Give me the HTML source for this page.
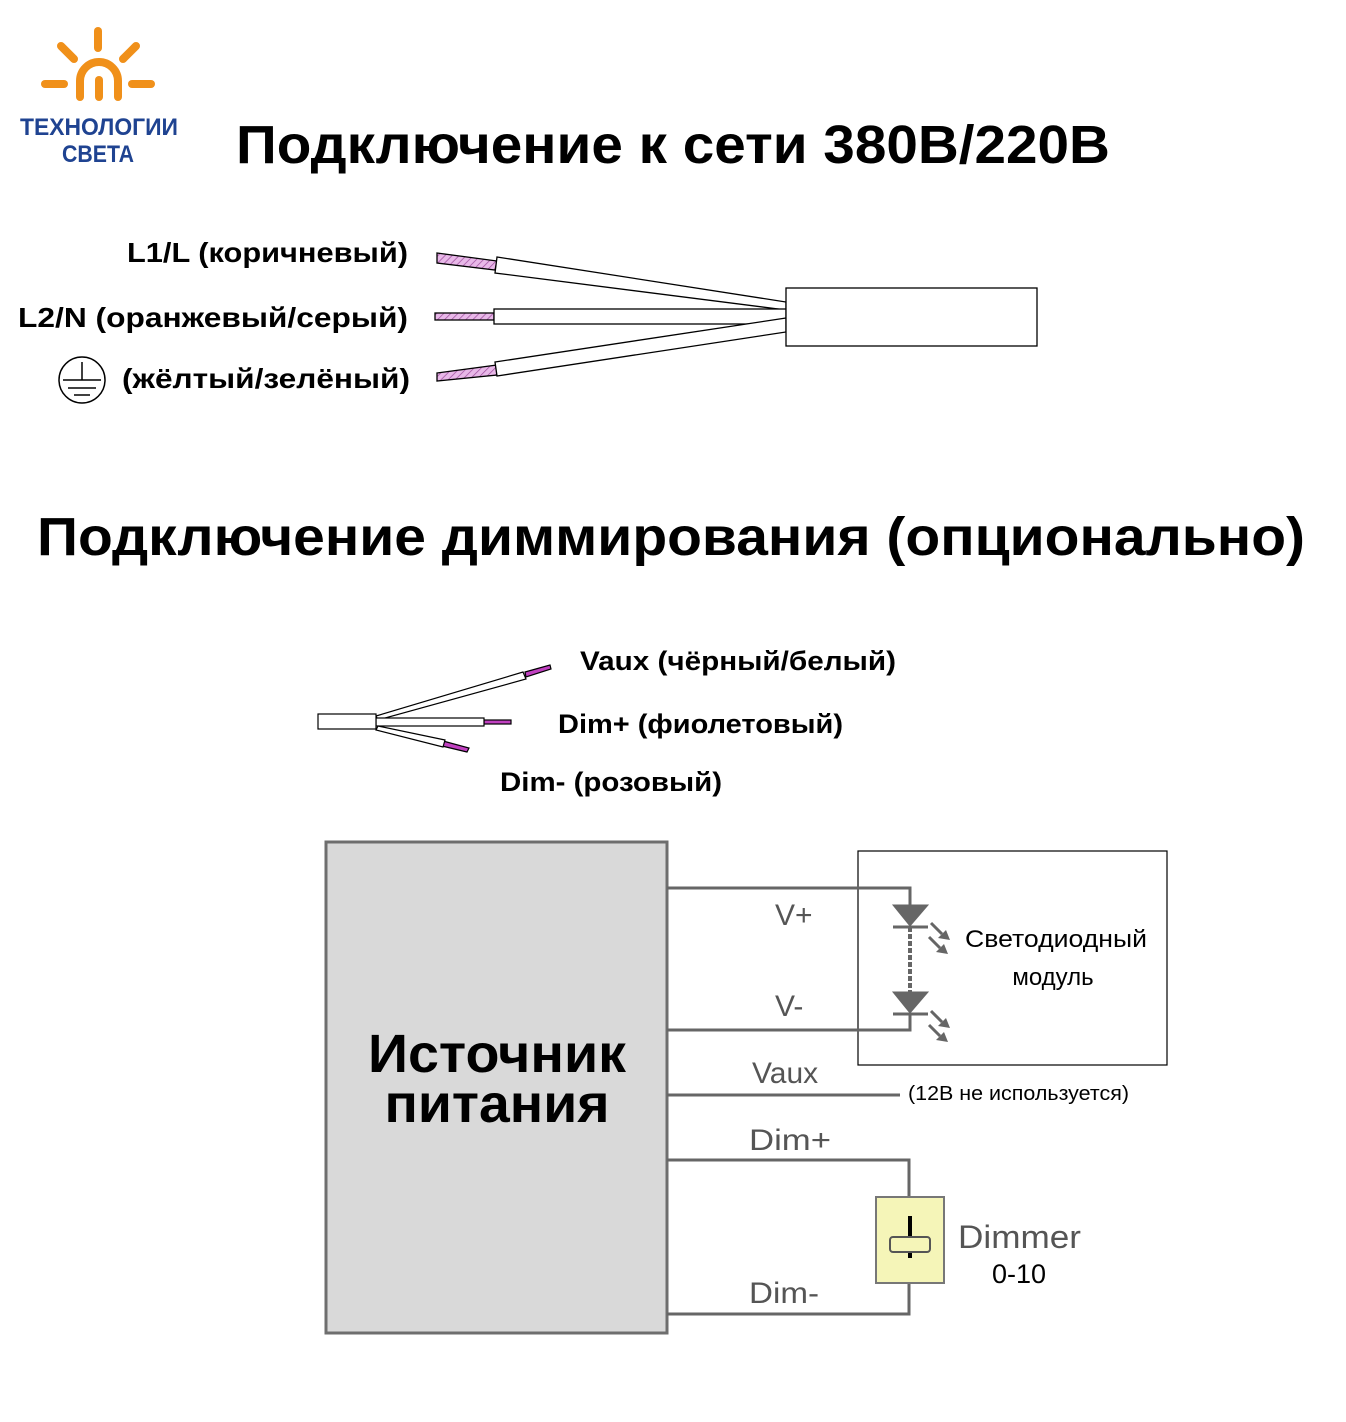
<!DOCTYPE html>
<html><head><meta charset="utf-8"><style>
html,body{margin:0;padding:0;background:#fff;}
svg{display:block;}
text{font-family:"Liberation Sans","DejaVu Sans",sans-serif;}
</style></head><body>
<svg width="1346" height="1422" viewBox="0 0 1346 1422" xmlns="http://www.w3.org/2000/svg">
<defs>
<pattern id="h" width="5" height="5" patternUnits="userSpaceOnUse" patternTransform="rotate(45)">
<rect width="5" height="5" fill="#e8b8e8"/><line x1="0" y1="0" x2="0" y2="5" stroke="#a050a0" stroke-width="1.5"/>
</pattern>
</defs>
<!-- logo -->
<g stroke="#f0901a" stroke-width="8" stroke-linecap="round" fill="none">
<line x1="98" y1="31" x2="98" y2="48"/>
<line x1="61" y1="46" x2="74" y2="59"/>
<line x1="136" y1="46" x2="123" y2="59"/>
<line x1="45" y1="84" x2="64" y2="84"/>
<line x1="132" y1="84" x2="151" y2="84"/>
<line x1="99" y1="80" x2="99" y2="97"/>
<path d="M80 97 L80 81 A19 19 0 0 1 118 81 L118 97"/>
</g>
<text x="99" y="135" font-size="24" font-weight="bold" fill="#1f4391" text-anchor="middle" textLength="158" lengthAdjust="spacingAndGlyphs">ТЕХНОЛОГИИ</text>
<text x="98" y="162" font-size="24" font-weight="bold" fill="#1f4391" text-anchor="middle" textLength="72" lengthAdjust="spacingAndGlyphs">СВЕТА</text>
<text x="236" y="163" font-size="54" font-weight="bold" fill="#000" textLength="874" lengthAdjust="spacingAndGlyphs">Подключение к сети 380В/220В</text>
<!-- labels -->
<g font-size="28" font-weight="bold" fill="#000">
<text x="127" y="262" textLength="281" lengthAdjust="spacingAndGlyphs">L1/L (коричневый)</text>
<text x="18" y="327" textLength="390" lengthAdjust="spacingAndGlyphs">L2/N (оранжевый/серый)</text>
<text x="122" y="388" textLength="288" lengthAdjust="spacingAndGlyphs">(жёлтый/зелёный)</text>
</g>
<g stroke="#000" stroke-width="1.5" fill="none">
<circle cx="82" cy="380" r="23"/>
<line x1="82" y1="362" x2="82" y2="380"/>
<line x1="63" y1="380" x2="101" y2="380"/>
<line x1="68" y1="388" x2="96" y2="388"/>
<line x1="74" y1="395" x2="90" y2="395"/>
</g>
<!-- mains wires -->
<g stroke="#000" stroke-width="1.3">
<polygon points="437,253 497,261 495,270 437,263" fill="url(#h)"/>
<polygon points="497,257 786,302 786,310 495,273" fill="#fff"/>
<rect x="435" y="313" width="59" height="7" fill="url(#h)"/>
<rect x="494" y="309" width="292" height="15" fill="#fff"/>
<polygon points="437,373 497,365 497,375 437,381" fill="url(#h)"/>
<polygon points="495,362 786,318 786,332 497,376" fill="#fff"/>
<rect x="786" y="288" width="251" height="58" fill="#fff"/>
</g>
<text x="37" y="555" font-size="54" font-weight="bold" fill="#000" textLength="1268" lengthAdjust="spacingAndGlyphs">Подключение диммирования (опционально)</text>
<!-- small cable -->
<g stroke="#000" stroke-width="1.2">
<polygon points="525,672 550,665 551,669 526,677" fill="#c040c0"/>
<polygon points="376,716 523,672 526,679 378,720" fill="#fff"/>
<rect x="484" y="720" width="27" height="4" fill="#c040c0"/>
<rect x="376" y="718" width="108" height="8" fill="#fff"/>
<polygon points="443,741 469,748 467,752 442,746" fill="#c040c0"/>
<polygon points="378,726 445,740 443,747 376,730" fill="#fff"/>
<rect x="318" y="714" width="58" height="15" fill="#fff"/>
</g>
<g font-size="27" font-weight="bold" fill="#000">
<text x="580" y="670" textLength="316" lengthAdjust="spacingAndGlyphs">Vaux (чёрный/белый)</text>
<text x="558" y="733" textLength="285" lengthAdjust="spacingAndGlyphs">Dim+ (фиолетовый)</text>
<text x="500" y="791" textLength="222" lengthAdjust="spacingAndGlyphs">Dim- (розовый)</text>
</g>
<!-- PSU -->
<rect x="326" y="842" width="341" height="491" fill="#d9d9d9" stroke="#6e6e6e" stroke-width="3"/>
<text x="497" y="1072" font-size="54" font-weight="bold" fill="#000" text-anchor="middle" textLength="258" lengthAdjust="spacingAndGlyphs">Источник</text>
<text x="497" y="1122" font-size="54" font-weight="bold" fill="#000" text-anchor="middle" textLength="225" lengthAdjust="spacingAndGlyphs">питания</text>
<rect x="858" y="851" width="309" height="214" fill="none" stroke="#000" stroke-width="1.2"/>
<g stroke="#666" stroke-width="3" fill="none">
<polyline points="667,888 910,888 910,905"/>
<polyline points="667,1030 910,1030 910,1014"/>
<line x1="910" y1="927" x2="910" y2="992" stroke-dasharray="5,2" stroke-width="4"/>
<line x1="667" y1="1095" x2="900" y2="1095"/>
<polyline points="667,1160 909,1160 909,1197"/>
<polyline points="667,1314 909,1314 909,1283"/>
</g>
<g fill="#666" stroke="#666">
<polygon points="893,905 928,905 910,926"/>
<line x1="893" y1="927" x2="928" y2="927" stroke-width="3"/>
<polygon points="893,992 928,992 910,1013"/>
<line x1="893" y1="1014" x2="928" y2="1014" stroke-width="3"/>
<g stroke-width="3">
<line x1="931" y1="923" x2="942" y2="934"/><line x1="929" y1="937" x2="940" y2="948"/>
<line x1="931" y1="1011" x2="942" y2="1022"/><line x1="929" y1="1025" x2="940" y2="1036"/>
</g>
<polygon points="950,940 938,938 946,930" stroke="none"/>
<polygon points="948,954 936,952 944,944" stroke="none"/>
<polygon points="950,1028 938,1026 946,1018" stroke="none"/>
<polygon points="948,1042 936,1040 944,1032" stroke="none"/>
</g>
<text x="965" y="947" font-size="24" fill="#000" textLength="182" lengthAdjust="spacingAndGlyphs">Светодиодный</text>
<text x="1053" y="985" font-size="24" fill="#000" text-anchor="middle">модуль</text>
<g font-size="30" fill="#555">
<text x="775" y="925">V+</text>
<text x="775" y="1016">V-</text>
<text x="752" y="1083">Vaux</text>
<text x="749" y="1150" textLength="82" lengthAdjust="spacingAndGlyphs">Dim+</text>
<text x="749" y="1303" textLength="70" lengthAdjust="spacingAndGlyphs">Dim-</text>
</g>
<text x="908" y="1100" font-size="20" fill="#000" textLength="221" lengthAdjust="spacingAndGlyphs">(12В не используется)</text>
<rect x="876" y="1197" width="68" height="86" fill="#f5f5b8" stroke="#777" stroke-width="2"/>
<rect x="908" y="1216" width="4" height="42" fill="#000"/>
<rect x="890" y="1237" width="40" height="15" rx="3" fill="#f5f5b8" stroke="#555" stroke-width="2"/>
<text x="958" y="1248" font-size="32" fill="#555" textLength="123" lengthAdjust="spacingAndGlyphs">Dimmer</text>
<text x="992" y="1283" font-size="27" fill="#000">0-10</text>
</svg>
</body></html>
